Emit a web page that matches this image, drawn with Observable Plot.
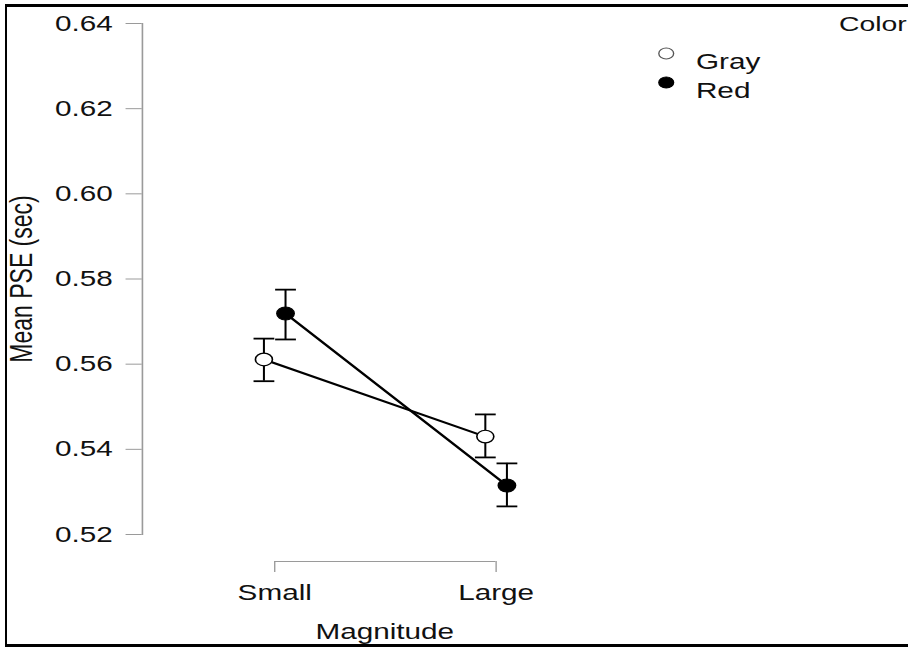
<!DOCTYPE html>
<html>
<head>
<meta charset="utf-8">
<script src="https://cdn.jsdelivr.net/npm/d3@7"></script>
<script src="https://cdn.jsdelivr.net/npm/@observablehq/plot@0.6"></script>
<style>
  html, body { margin: 0; padding: 0; background: #fff; overflow: hidden; width: 908px; height: 647px; }
  #chart { position: absolute; left: 0; top: 0; width: 673px; transform: scaleX(1.35); transform-origin: 0 0; }
  #chart svg { max-width: none; }
  #border { position: absolute; left: 5px; top: 4px; width: 930px; height: 643px; box-sizing: border-box;
            border-left: 2.5px solid #000; border-top: 3px solid #000; border-bottom: 3px solid #000; pointer-events: none; }
</style>
</head>
<body>
<div id="chart"></div>
<div id="border"></div>
<script>
// ---- data ----
const magnitudes = ["Small", "Large"];
const colors = ["Gray", "Red"];
const grayMean = [0.5611, 0.5430];
const grayLow  = [0.5560, 0.5381];
const grayHigh = [0.5660, 0.5482];
const redMean  = [0.5719, 0.5315];
const redLow   = [0.5658, 0.5266];
const redHigh  = [0.5775, 0.5367];
const yTicks = [0.52, 0.54, 0.56, 0.58, 0.60, 0.62, 0.64];
const xTitle = "Magnitude";
const yTitle = "Mean PSE (sec)";
const legendTitle = "Color";

// ---- build tables ----
const rows = (color, mean, lo, hi) =>
  magnitudes.map((m, i) => ({magnitude: m, color, mean: mean[i], lo: lo[i], hi: hi[i]}));
const gray = rows(colors[0], grayMean, grayLow, grayHigh);
const red = rows(colors[1], redMean, redLow, redHigh);

const ink = "#000";
const axisGray = "#9a9a9a";
const textInk = "#111";
const dodge = 8;
const xAxisOffset = 27;

const cap = {draw(ctx, size) { const w = Math.sqrt(size / Math.PI); ctx.moveTo(-w, 0); ctx.lineTo(w, 0); }};

const bars = (data, dx) => [
  Plot.ruleX(data, {x: "magnitude", y1: "lo", y2: "hi", dx, stroke: ink, strokeWidth: 1.5}),
  Plot.dot(data, {x: "magnitude", y: "lo", dx, symbol: cap, r: 7.7, stroke: ink, strokeWidth: 1.8, fill: "none"}),
  Plot.dot(data, {x: "magnitude", y: "hi", dx, symbol: cap, r: 7.7, stroke: ink, strokeWidth: 1.8, fill: "none"})
];
const line = (data, dx) => Plot.line(data, {x: "magnitude", y: "mean", dx, stroke: ink, strokeWidth: 2});

const legendFill = {Gray: "#fff", Red: "#000"};
const legendStroke = {Gray: "#555", Red: "#000"};

const chart = Plot.plot({
  width: 673,
  height: 647,
  marginTop: 23,
  marginBottom: 113,
  marginLeft: 105,
  marginRight: 209,
  style: {fontFamily: "'Liberation Sans', Arial, Helvetica, sans-serif", fontSize: "22px", color: textInk, background: "transparent", overflow: "visible"},
  x: {type: "point", domain: magnitudes, padding: 0.59, axis: null},
  y: {domain: [yTicks[0], yTicks[yTicks.length - 1]], axis: null},
  marks: [
    Plot.frame({anchor: "left", stroke: axisGray, strokeWidth: 1.2}),
    Plot.axisY(yTicks, {tickSize: 12, tickPadding: 10, tickFormat: d => d.toFixed(2), stroke: axisGray, fill: textInk, fontSize: 22, label: null}),
    Plot.ruleY([yTicks[0]], {x1: () => magnitudes[0], x2: () => magnitudes[magnitudes.length - 1], dy: xAxisOffset, stroke: axisGray, strokeWidth: 1.2}),
    Plot.axisX(magnitudes, {tickSize: 11, tickPadding: 12, dy: xAxisOffset, stroke: axisGray, fill: textInk, fontSize: 22, label: null}),
    Plot.text([xTitle], {frameAnchor: "bottom", dy: 104, fontSize: 22, fill: textInk}),
    Plot.text([yTitle], {frameAnchor: "left", rotate: -90, dx: -89, textAnchor: "middle", lineAnchor: "middle", fontSize: 23, fill: textInk}),
    ...bars(gray, -dodge),
    ...bars(red, dodge),
    line(gray, -dodge),
    line(red, dodge),
    Plot.dot(gray, {x: "magnitude", y: "mean", dx: -dodge, r: 6.3, fill: "#fff", stroke: ink, strokeWidth: 1.2}),
    Plot.dot(red, {x: "magnitude", y: "mean", dx: dodge, r: 6.5, fill: "#000", stroke: ink, strokeWidth: 1}),
    // legend
    ...colors.map((c, i) => Plot.dot([c], {x: null, y: null, frameAnchor: "top-right", dx: 29, dy: 30 + 29 * i, r: 5.5, fill: legendFill[c], stroke: legendStroke[c], strokeWidth: 1})),
    ...colors.map((c, i) => Plot.text([c], {x: null, y: null, frameAnchor: "top-right", dx: 51, dy: 30 + 29 * i, textAnchor: "start", fontSize: 22, fill: textInk})),
    Plot.text([legendTitle], {x: null, y: null, frameAnchor: "top-right", dx: 157, dy: -7, textAnchor: "start", fontSize: 21, fill: textInk})
  ]
});
document.getElementById("chart").appendChild(chart);
</script>
</body>
</html>
